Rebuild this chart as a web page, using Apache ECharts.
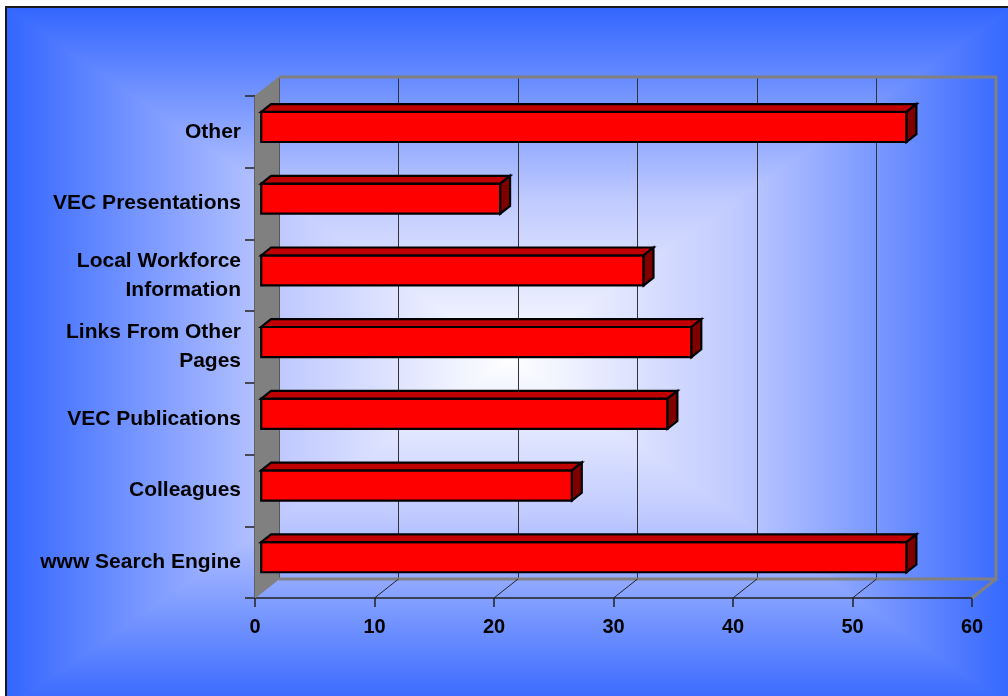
<!DOCTYPE html>
<html>
<head>
<meta charset="utf-8">
<script src="https://cdn.jsdelivr.net/npm/echarts@6/dist/echarts.min.js"></script>
<style>
  html, body { margin: 0; padding: 0; background: #fff; }
  #chart { width: 1008px; height: 696px; }
</style>
</head>
<body>
<div id="chart"></div>
<script>
// data, bottom to top
const categories = [
  'www Search Engine',
  'Colleagues',
  'VEC Publications',
  'Links From Other\nPages',
  'Local Workforce\nInformation',
  'VEC Presentations',
  'Other'
];
const values = [54, 26, 34, 36, 32, 20, 54];
const xTicks = [0, 10, 20, 30, 40, 50, 60];

// 3d look: back wall is the front plane shifted by DEPTH
const DEPTH = [24, -19];
const FRONT = { left: 255, top: 96, right: 36, bottom: 98 };
const BACK = {
  left: FRONT.left + DEPTH[0],
  top: FRONT.top + DEPTH[1],
  right: FRONT.right - DEPTH[0],
  bottom: FRONT.bottom - DEPTH[1]
};
const BAR_NEAR = 0.26;
const BAR_FAR = 0.67;

const FONT = 'Liberation Sans, Arial, sans-serif';
const BLUE = '#3366FF';

// rectangular "from center" gradient: top/bottom halves, then left/right triangles on top
const bgL = 6, bgT = 7, bgR = 1014, bgB = 709;
const cx = 510, cy = 358;
const stops = [
  { offset: 0, color: '#FFFFFF' },
  { offset: 0.45, color: '#C0CAFF' },
  { offset: 1, color: BLUE }
];
const lin = (x, y, x2, y2) => ({ type: 'linear', x, y, x2, y2, global: true, colorStops: stops });
const poly = (pts, fill, z) => ({
  type: 'polygon', silent: true, z: z,
  shape: { points: pts },
  style: { fill: fill, stroke: null }
});

const chartDom = document.getElementById('chart');
const myChart = echarts.init(chartDom, null, { renderer: 'canvas' });

const renderFrame = (params, api) => {
  const cs = params.coordSys;
  const X0 = cs.x, Y0 = cs.y, X1 = cs.x + cs.width, Y1 = cs.y + cs.height;
  const dx = DEPTH[0], dy = DEPTH[1];
  const children = [];
  children.push({
    type: 'polygon',
    shape: { points: [[X0 - dx, Y0 - dy], [X0, Y0], [X0, Y1], [X0 - dx, Y1 - dy]] },
    style: { fill: '#808080', stroke: '#808080', lineWidth: 1 }
  });
  children.push({
    type: 'polyline',
    shape: { points: [[X0, Y0], [X1, Y0], [X1, Y1], [X0, Y1]] },
    style: { fill: null, stroke: '#808080', lineWidth: 3 }
  });
  children.push({
    type: 'line',
    shape: { x1: X1, y1: Y1, x2: X1 - dx, y2: Y1 - dy },
    style: { stroke: '#808080', lineWidth: 3 }
  });
  xTicks.slice(1, -1).forEach(v => {
    const px = api.coord([v, 0])[0];
    children.push({
      type: 'line',
      shape: { x1: px, y1: Y1, x2: px - dx, y2: Y1 - dy },
      style: { stroke: '#222', lineWidth: 1 }
    });
  });
  return { type: 'group', children };
};

const renderBar = (params, api) => {
  const p0 = api.coord([0, api.value(1)]);
  const p1 = api.coord([api.value(0), api.value(1)]);
  const h = api.size([0, 1])[1] * 0.42;
  const nx = DEPTH[0] * BAR_NEAR, ny = DEPTH[1] * BAR_NEAR;
  const fx = DEPTH[0] * BAR_FAR, fy = DEPTH[1] * BAR_FAR;
  const xl = p0[0], xr = p1[0];
  const yt = p0[1] - h / 2, yb = p0[1] + h / 2;
  const line = { stroke: '#000', lineWidth: 2.2, lineJoin: 'miter' };
  return {
    type: 'group',
    children: [
      {
        type: 'polygon',
        shape: { points: [[xl + nx, yt + ny], [xr + nx, yt + ny], [xr + nx, yb + ny], [xl + nx, yb + ny]] },
        style: Object.assign({ fill: '#FF0000' }, line)
      },
      {
        type: 'polygon',
        shape: { points: [[xl + nx, yt + ny], [xr + nx, yt + ny], [xr + fx, yt + fy], [xl + fx, yt + fy]] },
        style: Object.assign({ fill: '#C00000' }, line)
      },
      {
        type: 'polygon',
        shape: { points: [[xr + nx, yt + ny], [xr + fx, yt + fy], [xr + fx, yb + fy], [xr + nx, yb + ny]] },
        style: Object.assign({ fill: '#800000' }, line)
      }
    ]
  };
};

const option = {
  backgroundColor: '#FFFFFF',
  animation: false,
  graphic: [
    poly([[bgL, bgT], [bgR, bgT], [bgR, cy + 1], [bgL, cy + 1]], lin(0, cy, 0, bgT), -100),
    poly([[bgL, cy - 1], [bgR, cy - 1], [bgR, bgB], [bgL, bgB]], lin(0, cy, 0, bgB), -100),
    poly([[bgL, bgT], [bgL, bgB], [cx, cy]], lin(cx, 0, bgL, 0), -99),
    poly([[bgR, bgT], [bgR, bgB], [cx, cy]], lin(cx, 0, bgR, 0), -99),
    {
      type: 'rect', silent: true, z: -90,
      shape: { x: bgL, y: bgT, width: bgR - bgL, height: bgB - bgT },
      style: { fill: null, stroke: '#1a1a1a', lineWidth: 2 }
    }
  ],
  grid: [
    Object.assign({ containLabel: false }, FRONT),
    Object.assign({ containLabel: false }, BACK)
  ],
  xAxis: [
    {
      type: 'value', gridIndex: 0, min: 0, max: 60, interval: 10,
      splitLine: { show: false },
      axisLine: { show: true, lineStyle: { color: '#222', width: 1.5 } },
      axisTick: { show: true, length: 9, lineStyle: { color: '#222', width: 1.5 } },
      axisLabel: {
        margin: 19, color: '#000', fontSize: 20, fontWeight: 'bold', fontFamily: FONT,
        formatter: v => String(v)
      }
    },
    {
      type: 'value', gridIndex: 1, min: 0, max: 60, interval: 10,
      splitLine: { show: true, lineStyle: { color: '#333', width: 1 } },
      axisLine: { show: false },
      axisTick: { show: false },
      axisLabel: { show: false }
    }
  ],
  yAxis: [
    {
      type: 'category', gridIndex: 0, data: categories,
      axisLine: { show: true, lineStyle: { color: '#222', width: 1.5 } },
      axisTick: { show: true, length: 10, lineStyle: { color: '#222', width: 1.5 } },
      axisLabel: {
        margin: 14, color: '#000', fontSize: 21, fontWeight: 'bold', fontFamily: FONT,
        lineHeight: 29, align: 'right'
      },
      splitLine: { show: false }
    },
    {
      type: 'category', gridIndex: 1, data: categories, show: false
    }
  ],
  series: [
    {
      name: 'frame',
      type: 'custom',
      xAxisIndex: 1,
      yAxisIndex: 1,
      z: 1,
      silent: true,
      renderItem: renderFrame,
      data: [[0, 0]]
    },
    {
      name: 'bars',
      type: 'custom',
      xAxisIndex: 0,
      yAxisIndex: 0,
      z: 5,
      renderItem: renderBar,
      encode: { x: 0, y: 1 },
      data: values.map((v, i) => [v, i])
    }
  ]
};

myChart.setOption(option);
</script>
</body>
</html>
